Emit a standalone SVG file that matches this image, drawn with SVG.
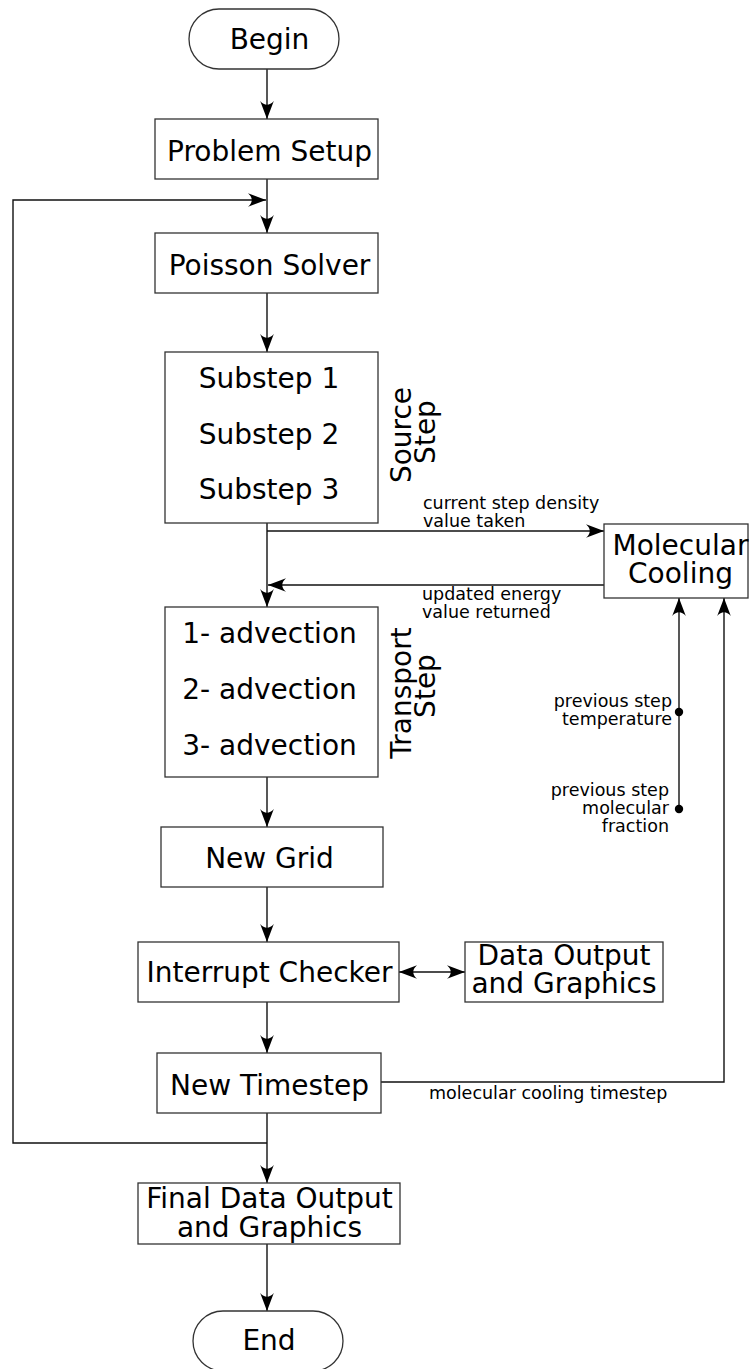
<svg xmlns="http://www.w3.org/2000/svg" width="749" height="1369" viewBox="0 0 749 1369">
<defs>
<marker id="ah" markerUnits="userSpaceOnUse" markerWidth="22" markerHeight="18" viewBox="-20 -9 22 18" refX="0" refY="0" orient="auto-start-reverse">
<path d="M0,0 L-18,-6.8 C-13,-2.5 -13,2.5 -18,6.8 Z" fill="#000"/>
</marker>
<style>
.box{fill:#fff;stroke:#333;stroke-width:1.3}
.t{font-family:"DejaVu Sans",sans-serif;font-size:28px;fill:#000;text-anchor:middle}
.s{font-family:"DejaVu Sans",sans-serif;font-size:17.5px;fill:#000}
.c{fill:none;stroke:#111;stroke-width:1.4}
</style>
</defs>
<rect width="749" height="1369" fill="#fff"/>
<g id="connectors">
<line class="c" x1="267" y1="69" x2="267" y2="119" marker-end="url(#ah)"/>
<line class="c" x1="267" y1="179" x2="267" y2="233" marker-end="url(#ah)"/>
<path class="c" d="M267,1143 L13,1143 L13,200 L266,200" marker-end="url(#ah)"/>
<line class="c" x1="267" y1="293" x2="267" y2="352" marker-end="url(#ah)"/>
<line class="c" x1="267" y1="523" x2="267" y2="607" marker-end="url(#ah)"/>
<line class="c" x1="267" y1="531" x2="604" y2="531" marker-end="url(#ah)"/>
<line class="c" x1="604" y1="585" x2="268" y2="585" marker-end="url(#ah)"/>
<line class="c" x1="267" y1="777" x2="267" y2="827" marker-end="url(#ah)"/>
<line class="c" x1="267" y1="887" x2="267" y2="942" marker-end="url(#ah)"/>
<line class="c" x1="399" y1="972" x2="465" y2="972" marker-start="url(#ah)" marker-end="url(#ah)"/>
<line class="c" x1="267" y1="1002" x2="267" y2="1053" marker-end="url(#ah)"/>
<line class="c" x1="267" y1="1113" x2="267" y2="1183" marker-end="url(#ah)"/>
<line class="c" x1="267" y1="1244" x2="267" y2="1311" marker-end="url(#ah)"/>
<path class="c" d="M381,1082 L724,1082 L724,598" marker-end="url(#ah)"/>
<line class="c" x1="679" y1="809" x2="679" y2="598" marker-end="url(#ah)"/>
<circle cx="679" cy="712" r="4.2" fill="#000"/>
<circle cx="679" cy="809" r="4.2" fill="#000"/>
<text class="s" x="423" y="509">current step density</text>
<text class="s" x="423" y="527">value taken</text>
<text class="s" x="422" y="600">updated energy</text>
<text class="s" x="422" y="618">value returned</text>
<text class="s" x="672" y="707" text-anchor="end">previous step</text>
<text class="s" x="672" y="725" text-anchor="end">temperature</text>
<text class="s" x="669" y="796" text-anchor="end">previous step</text>
<text class="s" x="669" y="814" text-anchor="end">molecular</text>
<text class="s" x="669" y="832" text-anchor="end">fraction</text>
<text class="s" x="429" y="1099">molecular cooling timestep</text>
</g>
<g id="begin">
<rect class="box" x="189" y="9" width="150" height="60" rx="30" ry="30"/>
<text class="t" x="269.5" y="49">Begin</text>
</g>
<g id="problem-setup">
<rect class="box" x="155" y="119" width="223" height="60"/>
<text class="t" x="269.5" y="161">Problem Setup</text>
</g>
<g id="poisson-solver">
<rect class="box" x="155" y="233" width="223" height="60"/>
<text class="t" x="269.5" y="275">Poisson Solver</text>
</g>
<g id="source-step">
<rect class="box" x="165" y="352" width="213" height="171"/>
<text class="t" x="269" y="388">Substep 1</text>
<text class="t" x="269" y="444">Substep 2</text>
<text class="t" x="269" y="499">Substep 3</text>
<text class="t" transform="translate(411,435) rotate(-90)">Source</text>
<text class="t" transform="translate(435,432) rotate(-90)">Step</text>
</g>
<g id="transport-step">
<rect class="box" x="165" y="607" width="213" height="170"/>
<text class="t" x="269.5" y="643">1- advection</text>
<text class="t" x="269.5" y="699">2- advection</text>
<text class="t" x="269.5" y="755">3- advection</text>
<text class="t" transform="translate(411,693) rotate(-90)">Transport</text>
<text class="t" transform="translate(435,686) rotate(-90)">Step</text>
</g>
<g id="molecular-cooling">
<rect class="box" x="604" y="524" width="144" height="74"/>
<text class="t" x="680.5" y="555">Molecular</text>
<text class="t" x="680.5" y="583">Cooling</text>
</g>
<g id="new-grid">
<rect class="box" x="161" y="827" width="222" height="60"/>
<text class="t" x="269.5" y="868">New Grid</text>
</g>
<g id="interrupt-checker">
<rect class="box" x="138" y="942" width="261" height="60"/>
<text class="t" x="269.5" y="982">Interrupt Checker</text>
</g>
<g id="data-output">
<rect class="box" x="465" y="942" width="198" height="60"/>
<text class="t" x="564" y="965">Data Output</text>
<text class="t" x="564" y="993">and Graphics</text>
</g>
<g id="new-timestep">
<rect class="box" x="157" y="1053" width="224" height="60"/>
<text class="t" x="269.5" y="1095">New Timestep</text>
</g>
<g id="final-output">
<rect class="box" x="138" y="1183" width="262" height="61"/>
<text class="t" x="269.5" y="1208">Final Data Output</text>
<text class="t" x="269.5" y="1237">and Graphics</text>
</g>
<g id="end">
<rect class="box" x="193" y="1311" width="150" height="60" rx="30" ry="30"/>
<text class="t" x="269" y="1350">End</text>
</g>
</svg>
